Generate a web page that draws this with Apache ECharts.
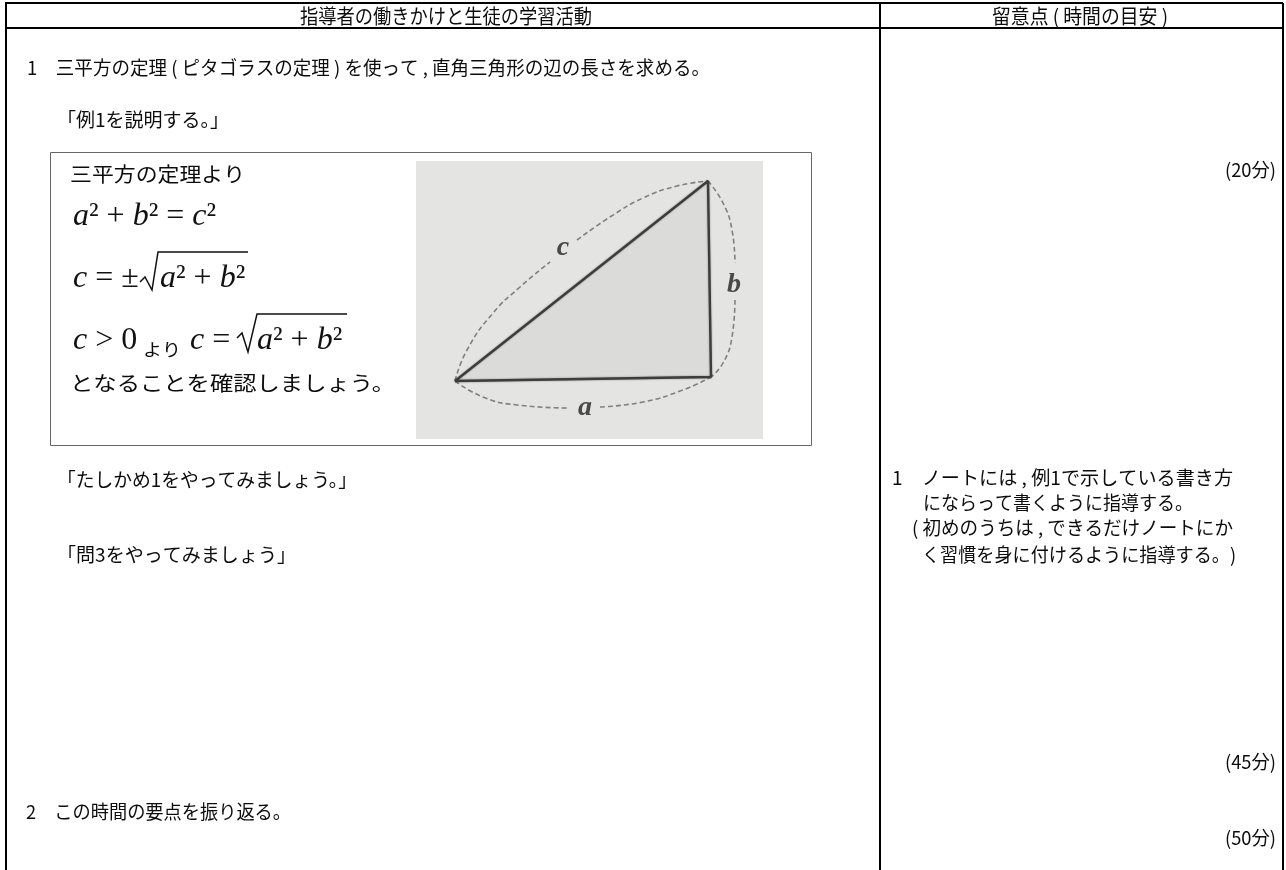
<!DOCTYPE html>
<html>
<head>
<meta charset="utf-8">
<style>
  html, body { margin: 0; padding: 0; background: #fff; }
  #chart { width: 1286px; height: 870px; }
</style>
</head>
<body>
<div id="chart"></div>
<script src="https://cdn.jsdelivr.net/npm/echarts@6/dist/echarts.min.js"></script>
<script>
// Text of the table
const headerLeft = '指導者の働きかけと生徒の学習活動';
const headerRight = '留意点 ( 時間の目安 )';
const bodyLines = [
  '1　三平方の定理 ( ピタゴラスの定理 ) を使って , 直角三角形の辺の長さを求める。',
  '「例1を説明する。」',
  '「たしかめ1をやってみましょう。」',
  '「問3をやってみましょう」',
  '2　この時間の要点を振り返る。'
];
const noteLines = [
  '1　ノートには , 例1で示している書き方',
  'にならって書くように指導する。',
  '( 初めのうちは , できるだけノートにか',
  'く習慣を身に付けるように指導する。)'
];
const timeMarks = ['(20分)', '(45分)', '(50分)'];
const figureLines = ['三平方の定理より', 'となることを確認しましょう。'];
const formulaYori = 'より';

// Triangle and dashed arcs, in pixels of the scanned figure
const triangle = [[39, 220], [295, 216], [292, 20]];
const arcC1 = [[39, 220], [51, 189], [77, 152], [104, 126], [134, 101]];
const arcC2 = [[161, 79], [194, 56], [227, 37], [261, 25], [292, 20]];
const arcB1 = [[292, 20], [307, 42], [316, 69], [319, 102]];
const arcB2 = [[319, 139], [316, 176], [307, 202], [295, 216]];
const arcA1 = [[39, 220], [67, 236], [101, 244], [151, 247]];
const arcA2 = [[184, 246], [227, 241], [267, 229], [295, 216]];
const sideLabels = [['c', 147, 87], ['b', 318, 124], ['a', 169, 247]];

const SANS = '"Noto Sans CJK JP", "Noto Sans", sans-serif';
const SERIF = '"Liberation Serif", serif';
const INK = '#0c0c0c';

const measureCtx = document.createElement('canvas').getContext('2d');
function line(text, x0, x1, yc, size) {
  measureCtx.font = size + 'px ' + SANS;
  const w = measureCtx.measureText(text).width;
  return {
    type: 'text', x: x0, y: yc, scaleX: (x1 - x0) / w, silent: true, z: 10,
    style: { text: text, x: 0, y: 0, fill: INK, font: size + 'px ' + SANS, textAlign: 'left', textVerticalAlign: 'middle' }
  };
}
function rule(x1, y1, x2, y2, width, color) {
  return {
    type: 'line', silent: true, z: 5,
    shape: { x1: x1, y1: y1, x2: x2, y2: y2 },
    style: { stroke: color || '#000', lineWidth: width }
  };
}
const mathRich = {
  i: { fontFamily: SERIF, fontStyle: 'italic', fontSize: 32, fill: '#111' },
  r: { fontFamily: SERIF, fontSize: 32, fill: '#111' }
};
function math(text, x, baseY) {
  return {
    type: 'text', x: x, y: baseY, silent: true, z: 10,
    style: { text: text, rich: mathRich, x: 0, y: 0, textAlign: 'left', textVerticalAlign: 'bottom', fill: '#111' }
  };
}
function radical(points) {
  return {
    type: 'polyline', silent: true, z: 10,
    shape: { points: points },
    style: { stroke: '#111', lineWidth: 1.5, fill: null }
  };
}

const graphics = [
  // table frame
  rule(5, 3, 1283, 3, 2),
  rule(5, 28, 1283, 28, 2),
  rule(6, 3, 6, 870, 2),
  rule(880, 3, 880, 870, 2),
  rule(1283, 3, 1283, 870, 2),
  // box around the worked example
  { type: 'rect', silent: true, z: 1, shape: { x: 50.5, y: 152.5, width: 761, height: 293 }, style: { fill: '#fff', stroke: '#666', lineWidth: 1 } },
  line(headerLeft, 300, 592, 16, 20),
  line(headerRight, 992, 1168, 16, 20),
  line(bodyLines[0], 27, 710, 68, 19),
  line(bodyLines[1], 57, 229, 120, 19),
  line(bodyLines[2], 57, 357, 480, 19),
  line(bodyLines[3], 57, 296, 555, 19),
  line(bodyLines[4], 26, 291, 812, 19),
  line(noteLines[0], 892, 1233, 478, 19),
  line(noteLines[1], 923, 1193, 503, 19),
  line(noteLines[2], 912, 1233, 528, 19),
  line(noteLines[3], 922, 1236, 555, 19),
  line(timeMarks[0], 1225, 1276, 170, 19),
  line(timeMarks[1], 1225, 1276, 762, 19),
  line(timeMarks[2], 1225, 1276, 838, 19),
  line(figureLines[0], 70, 245, 174, 20),
  line(figureLines[1], 70, 395, 383, 20),
  math('{i|a}{r|²}{r| + }{i|b}{r|²}{r| = }{i|c}{r|²}', 73, 233),
  math('{i|c}{r| = ±}', 73, 295),
  math('{i|a}{r|²}{r| + }{i|b}{r|²}', 160, 295),
  math('{i|c}{r| > 0}', 73, 357),
  line(formulaYori, 143, 181, 350, 17),
  math('{i|c}{r| =}', 190, 357),
  math('{i|a}{r|²}{r| + }{i|b}{r|²}', 257, 357),
  radical([[140, 282], [145, 277], [152, 290], [158, 252], [248, 252]]),
  radical([[237, 338], [242, 333], [248, 352], [257, 314], [347, 314]])
];

function arcSeries(points) {
  return {
    type: 'line', data: points, smooth: true, symbol: 'none', silent: true, z: 3,
    lineStyle: { color: '#808080', width: 1.6, type: [5, 3] }
  };
}

const chart = echarts.init(document.getElementById('chart'));
chart.setOption({
  animation: false,
  backgroundColor: '#fff',
  tooltip: { show: false },
  // grid sits exactly on the scanned figure
  grid: { left: 416, top: 161, width: 347, height: 278, show: true, backgroundColor: '#e4e4e2', borderWidth: 0, z: 2 },
  xAxis: { type: 'value', min: 0, max: 347, show: false },
  yAxis: { type: 'value', min: 0, max: 278, inverse: true, show: false },
  graphic: graphics,
  series: [
    {
      type: 'custom', silent: true, z: 2,
      data: triangle,
      renderItem: function (params, api) {
        if (params.dataIndex !== 0) return null;
        return {
          type: 'polygon',
          shape: { points: triangle.map(function (p) { return api.coord(p); }) },
          style: { fill: '#dbdbda' }
        };
      }
    },
    arcSeries(arcC1), arcSeries(arcC2),
    arcSeries(arcB1), arcSeries(arcB2),
    arcSeries(arcA1), arcSeries(arcA2),
    {
      type: 'line', silent: true, z: 4, symbol: 'none',
      data: triangle.concat([triangle[0]]),
      lineStyle: { color: '#3d3d3d', width: 2.4, shadowBlur: 2, shadowColor: 'rgba(0,0,0,0.4)' }
    },
    {
      type: 'scatter', silent: true, z: 5, symbolSize: 0,
      data: sideLabels.map(function (d) { return { name: d[0], value: [d[1], d[2]] }; }),
      label: {
        show: true, position: 'inside', formatter: '{b}', color: '#222',
        fontFamily: SERIF, fontStyle: 'italic', fontWeight: 'bold', fontSize: 28
      }
    }
  ]
});
</script>
</body>
</html>
